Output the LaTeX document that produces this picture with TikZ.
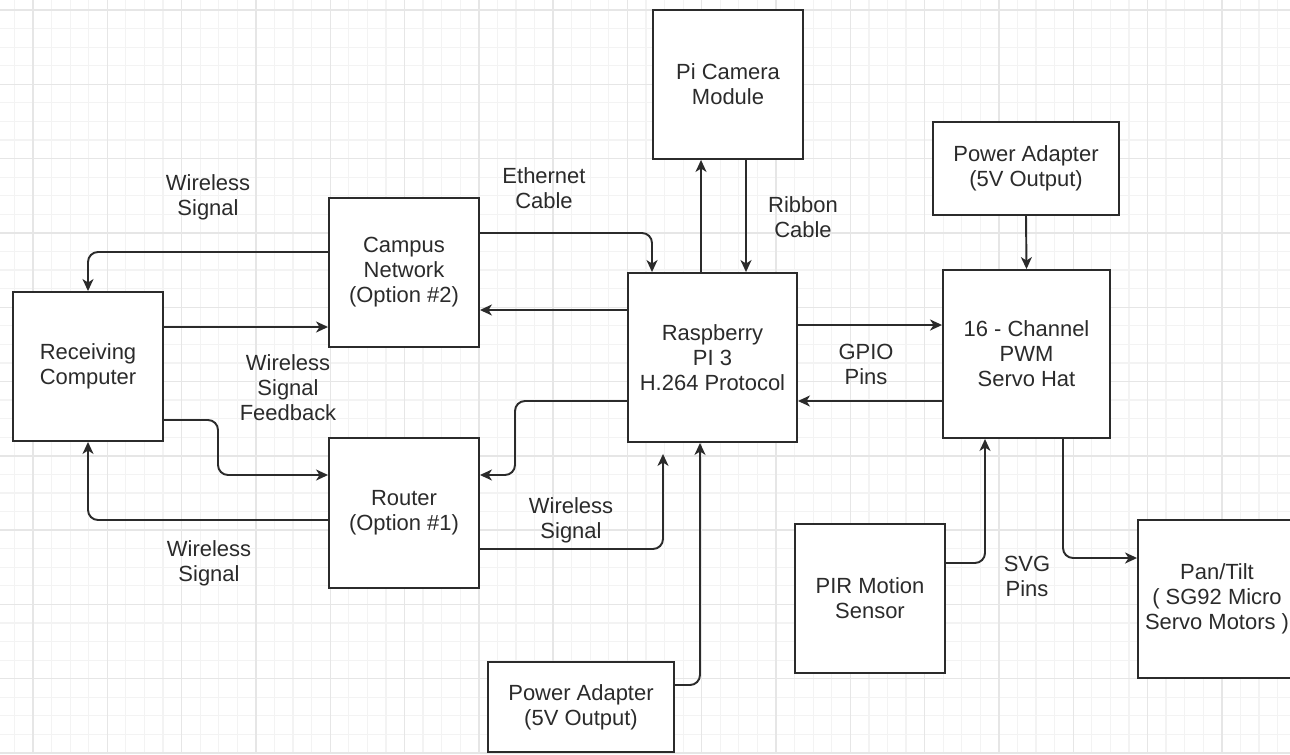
\documentclass[tikz,border=0pt]{standalone}
\usepackage{fontspec}
\setmainfont{Liberation Sans}
\usetikzlibrary{arrows.meta}
\definecolor{ink}{HTML}{2B2B2B}
\definecolor{gridmajor}{HTML}{E6E6E6}
\definecolor{gridminor}{HTML}{F3F3F3}

\begin{document}
\begin{tikzpicture}[
  x=0.02cm, y=-0.02cm,
  font=\fontsize{12.5}{14.2}\selectfont,
  box/.style={draw=ink, line width=1.1pt, fill=white, text=ink, align=center,
              minimum width=3cm, minimum height=2.98cm, inner sep=2pt},
  lbl/.style={text=ink, align=center, inner sep=1pt},
  arr/.style={-{Stealth[length=2.4mm, width=2.2mm, inset=0.7mm]}, draw=ink,
              line width=1.1pt, rounded corners=0.2cm}
]
  \useasboundingbox (0,0) rectangle (1290,754);
  \fill[white] (0,0) rectangle (1290,754);

  % background grid
  \foreach \k in {-1,...,68}
    \draw[gridminor, line width=0.7pt] ({33+18.575*\k},0) -- ({33+18.575*\k},754);
  \foreach \k in {0,...,40}
    \draw[gridminor, line width=0.7pt] (0,{10+18.575*\k}) -- (1290,{10+18.575*\k});
  \foreach \k in {0,...,16}
    \draw[gridmajor, line width=0.8pt] ({33+74.3*\k},0) -- ({33+74.3*\k},754);
  \foreach \k in {0,...,10}
    \draw[gridmajor, line width=0.8pt] (0,{10+74.3*\k}) -- (1290,{10+74.3*\k});

  % network side
  \node[box] (recv) at (88,366.5) {Receiving\\Computer};
  \node[box] (campus) at (404,272.5) {Campus\\Network\\(Option \#2)};
  \node[box, minimum height=3cm] (router) at (404,513) {Router\\(Option \#1)};

  % pi and camera
  \node[box] (camera) at (728,84.5) {Pi Camera\\Module};
  \node[box, minimum width=3.38cm, minimum height=3.38cm] (rpi) at (712.5,357.5)
    {Raspberry\\PI 3\\H.264 Protocol};
  \node[box, minimum width=3.72cm, minimum height=1.8cm] (pwrlow) at (581,707)
    {Power Adapter\\(5V Output)};

  % servo side
  \node[box, minimum width=3.72cm, minimum height=1.86cm] (pwrhat) at (1026,168.5)
    {Power Adapter\\(5V Output)};
  \node[box, minimum width=3.34cm, minimum height=3.36cm] (hat) at (1026.5,354)
    {16 - Channel\\PWM\\Servo Hat};
  \node[box] (pir) at (870,598.5) {PIR Motion\\Sensor};
  \node[box, minimum width=3.16cm, minimum height=3.16cm] (pantilt) at (1217,599)
    {Pan/Tilt\\( SG92 Micro\\Servo Motors )};

  % connector labels
  \node[lbl] (wsTop) at (208,197) {Wireless\\Signal};
  \node[lbl] (eth) at (544,188) {Ethernet\\Cable};
  \node[lbl] (ribbon) at (803,217) {Ribbon\\Cable};
  \node[lbl] (wsFb) at (288,388) {Wireless\\Signal\\Feedback};
  \node[lbl] (gpio) at (866,364) {GPIO\\Pins};
  \node[lbl] (wsLow) at (209,563) {Wireless\\Signal};
  \node[lbl] (wsMid) at (571,520) {Wireless\\Signal};
  \node[lbl] (svg) at (1027,576) {SVG\\Pins};

  % receiving computer <-> networks
  \draw[arr] (campus.west |- 0,252) -| (recv.north);
  \draw[arr] (recv.east |- 0,327) -- (campus.west |- 0,327);
  \draw[arr] (recv.east |- 0,420) -- (218,420) -- (218,475) -- (router.west |- 0,475);
  \draw[arr] (router.west |- 0,520) -| (recv.south);

  % networks <-> pi
  \draw[arr] (campus.east |- 0,233) -| (rpi.north -| 652,0);
  \draw[arr] (rpi.west |- 0,310) -- (campus.east |- 0,310);
  \draw[arr] (rpi.west |- 0,401) -- (515,401) -- (515,475) -- (router.east |- 0,475);
  \draw[arr, shorten >=0.22cm] (router.east |- 0,549) -| (rpi.south -| 663,0);
  \draw[arr] (pwrlow.east |- 0,685) -| (rpi.south -| 700,0);

  % pi <-> camera
  \draw[arr] (rpi.north -| 701,0) -- (camera.south -| 701,0);
  \draw[arr] (camera.south -| 746,0) -- (rpi.north -| 746,0);

  % pi <-> servo hat
  \draw[arr] (rpi.east |- 0,325) -- (hat.west |- 0,325);
  \draw[arr] (hat.west |- 0,401) -- (rpi.east |- 0,401);
  \draw[arr] (pwrhat.south) -- (hat.north);
  \draw[arr] (pir.east |- 0,563) -| (hat.south -| 985,0);
  \draw[arr] (hat.south -| 1063,0) |- (pantilt.west |- 0,558);
\end{tikzpicture}
\end{document}
